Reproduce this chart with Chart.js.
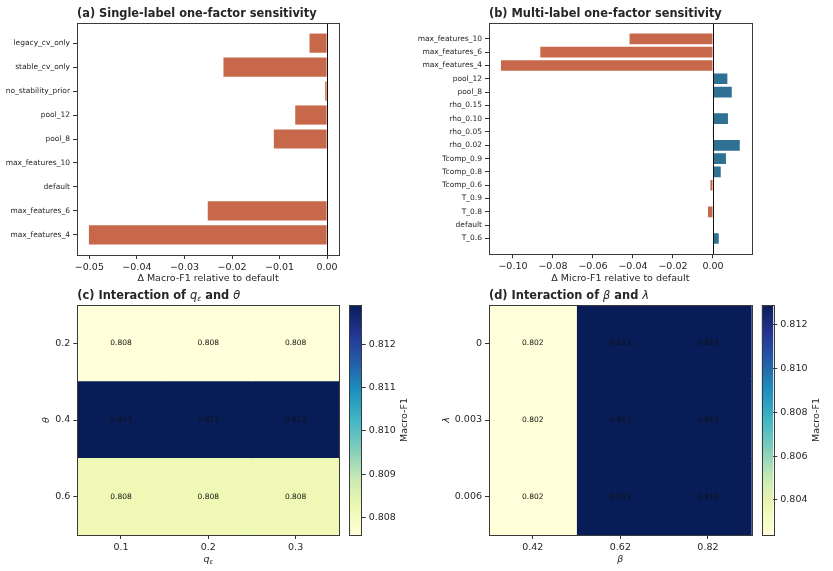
<!DOCTYPE html>
<html><head><meta charset="utf-8">
<script src="https://cdn.jsdelivr.net/npm/chart.js@4.4.0/dist/chart.umd.min.js"></script>
<style>
html,body{margin:0;padding:0;background:#fff;}
#wrap{position:relative;width:833px;height:571px;overflow:hidden;}
#wrap canvas{position:absolute;left:0;top:0;}
</style></head>
<body><div id="wrap"></div>
<script>
// ---------- data ----------
const labelsA = ['legacy_cv_only','stable_cv_only','no_stability_prior','pool_12','pool_8','max_features_10','default','max_features_6','max_features_4'];
const deltaA = [-0.0037,-0.0218,-0.0004,-0.0067,-0.0112,0,0,-0.0251,-0.0501];
const ticksA = [-0.05,-0.04,-0.03,-0.02,-0.01,0];

const labelsB = ['max_features_10','max_features_6','max_features_4','pool_12','pool_8','rho_0.15','rho_0.10','rho_0.05','rho_0.02','Tcomp_0.9','Tcomp_0.8','Tcomp_0.6','T_0.9','T_0.8','default','T_0.6'];
const deltaB = [-0.0417,-0.0863,-0.1060,0.0072,0.0094,0,0.0075,-0.0002,0.0134,0.0065,0.0039,-0.0013,0,-0.0025,0,0.0029];
const ticksB = [-0.10,-0.08,-0.06,-0.04,-0.02,0];

const thetaLabels = ['0.2','0.4','0.6'];
const qLabels = ['0.1','0.2','0.3'];
const gridC = [[0.8076,0.8076,0.8076],[0.8129,0.8129,0.8129],[0.8082,0.8082,0.8082]];
const cbTicksC = [0.808,0.809,0.810,0.811,0.812];

const lambdaLabels = ['0','0.003','0.006'];
const betaLabels = ['0.42','0.62','0.82'];
const gridD = [[0.8024,0.8129,0.8129],[0.8024,0.8129,0.8129],[0.8024,0.8129,0.8129]];
const cbTicksD = [0.804,0.806,0.808,0.810,0.812];

// ---------- style ----------
const FAM = '"DejaVu Sans", sans-serif';
const NEG = '#c8684b', POS = '#2e7194';
const TXT = '#262626', TICK = '#333333', SPINE = '#3a3a3a';
const W = 833, H = 571;
const YLGNBU = [[255,255,217],[237,248,177],[199,233,180],[127,205,187],[65,182,196],[29,145,192],[34,94,168],[37,52,148],[8,29,88]];
function cmap(t){
  t = Math.max(0, Math.min(1, t));
  const p = t*(YLGNBU.length-1), i = Math.min(Math.floor(p), YLGNBU.length-2), f = p - i;
  const a = YLGNBU[i], b = YLGNBU[i+1];
  return 'rgb(' + a.map((v,k)=>Math.round(v + (b[k]-v)*f)).join(',') + ')';
}
Chart.defaults.font.family = FAM;
Chart.defaults.color = TXT;

function drawRich(ctx, parts, x, y, align){
  let total = 0;
  parts.forEach(p=>{ctx.font = p.f; total += ctx.measureText(p.t).width;});
  let cx = align === 'center' ? x - total/2 : x;
  ctx.textAlign = 'left'; ctx.textBaseline = 'middle'; ctx.fillStyle = TXT;
  parts.forEach(p=>{ctx.font = p.f; ctx.fillText(p.t, cx, y + (p.dy||0)); cx += ctx.measureText(p.t).width;});
}

const deco = {
  id: 'deco',
  afterDatasetsDraw(chart, args, o){
    const ctx = chart.ctx, ca = chart.chartArea;
    if (o.zeroLine){
      const x = Math.round(chart.scales.x.getPixelForValue(0)) + 0.5;
      ctx.save(); ctx.strokeStyle = '#111'; ctx.lineWidth = 1;
      ctx.beginPath(); ctx.moveTo(x, ca.top); ctx.lineTo(x, ca.bottom); ctx.stroke(); ctx.restore();
    }
    if (o.cells){
      ctx.save(); ctx.font = '7.5px ' + FAM; ctx.fillStyle = '#111';
      ctx.textAlign = 'center'; ctx.textBaseline = 'middle';
      chart.data.datasets.forEach((ds, j)=>{
        chart.getDatasetMeta(j).data.forEach((el, i)=>{
          const c = el.getCenterPoint();
          ctx.fillText(o.cells[i][j].toFixed(3), c.x, c.y);
        });
      });
      ctx.restore();
    }
  },
  afterDraw(chart, args, o){
    const ctx = chart.ctx, ca = chart.chartArea;
    ctx.save();
    ctx.strokeStyle = SPINE; ctx.lineWidth = 1;
    ctx.strokeRect(Math.round(ca.left)+0.5, Math.round(ca.top)+0.5, Math.round(ca.right-ca.left), Math.round(ca.bottom-ca.top));
    if (o.title) drawRich(ctx, o.title, ca.left, ca.top - 9.3, 'left');
    if (o.xTitle) drawRich(ctx, o.xTitle, (ca.left+ca.right)/2, ca.bottom + 25, 'center');
    if (o.cbLabel){
      ctx.translate(ca.right + 43.3, (ca.top+ca.bottom)/2); ctx.rotate(-Math.PI/2);
      drawRich(ctx, [{t:o.cbLabel, f:'9.5px ' + FAM}], 0, 0, 'center');
    }
    ctx.restore();
  }
};
Chart.register(deco);

function mkCanvas(){
  const c = document.createElement('canvas');
  c.width = W; c.height = H; c.style.width = W+'px'; c.style.height = H+'px';
  document.getElementById('wrap').appendChild(c);
  return c;
}
const tickGrid = {drawOnChartArea:false, drawTicks:true, tickLength:4, tickColor:TICK, tickWidth:1, offset:false};
const fmt2 = v => Math.abs(v) < 1e-12 ? '0.00' : v.toFixed(2).replace('-', '\u2212');

function barPanel(labels, values, ticks, xTitle, title, L){
  const n = labels.length;
  const m = 0.4 + 0.05*(n - 1 + 0.8);
  const lo = Math.min(0, ...values), hi = Math.max(0, ...values), r = hi - lo;
  new Chart(mkCanvas(), {
    type: 'bar',
    data: {datasets: [{
      data: values.map((v,i)=>({x:v, y:i})),
      backgroundColor: values.map(v => v < 0 ? NEG : POS),
      categoryPercentage: 1, barPercentage: 0.8, borderWidth: 0
    }]},
    options: {
      indexAxis: 'y', responsive: false, animation: false, devicePixelRatio: 1,
      layout: {padding: {left: L.pl, right: L.pr, top: L.pt, bottom: L.pb}},
      plugins: {legend: {display:false}, tooltip: {enabled:false},
        deco: {zeroLine: true, title: [{t:title, f:'bold 11.4px ' + FAM}]}},
      scales: {
        y: {type:'linear', reverse:true, offset:false, min:-m, max:n-1+m,
          afterBuildTicks: s => { s.ticks = labels.map((_,i)=>({value:i})); },
          ticks: {callback: v => labels[v], font:{size:7.5}, color:TXT, padding:3, autoSkip:false},
          grid: tickGrid, border: {display:false},
          afterFit: s => { s.width = L.yW; }},
        x: {type:'linear', offset:false, min: lo - 0.05*r, max: hi + 0.05*r,
          afterBuildTicks: s => { s.ticks = ticks.map(v=>({value:v})); },
          ticks: {callback: fmt2, font:{size:9.5}, color:TXT, padding:3, maxRotation:0, autoSkip:false},
          grid: tickGrid, border: {display:false},
          title: {display:true, text:xTitle, font:{size:9.5}, color:TXT, padding:0},
          afterFit: s => { s.height = L.xH; }}
      }
    }
  });
}

function heatPanel(rowLabels, colLabels, grid, titleParts, yTitle, yTitlePad, xTitleParts, xTitleText, L){
  const flat = grid.flat();
  const vmin = Math.min(...flat), vmax = Math.max(...flat);
  const datasets = colLabels.map((c, j) => ({
    data: rowLabels.map(() => [j - 0.5, j + 0.5]),
    backgroundColor: rowLabels.map((r, i) => cmap((grid[i][j] - vmin)/(vmax - vmin))),
    grouped: false, categoryPercentage: 1, barPercentage: 1, borderWidth: 0
  }));
  const xt = xTitleText ? {display:true, text:xTitleText, font:{size:9.5, style:'italic'}, color:TXT, padding:0} : {display:false};
  new Chart(mkCanvas(), {
    type: 'bar',
    data: {labels: rowLabels, datasets},
    options: {
      indexAxis: 'y', responsive: false, animation: false, devicePixelRatio: 1,
      layout: {padding: {left: L.pl, right: L.pr, top: L.pt, bottom: L.pb}},
      plugins: {legend:{display:false}, tooltip:{enabled:false},
        deco: {cells: grid, title: titleParts, xTitle: xTitleParts}},
      scales: {
        y: {type:'category', offset:true,
          ticks: {font:{size:9.5}, color:TXT, padding:3},
          grid: tickGrid, border:{display:false},
          title: {display:true, text:yTitle, font:{size:9.5, style:'italic'}, color:TXT, padding:{top:yTitlePad, bottom:0}},
          afterFit: s => { s.width = L.yW; }},
        x: {type:'linear', offset:false, min:-0.5, max:colLabels.length - 0.5,
          afterBuildTicks: s => { s.ticks = colLabels.map((_, j)=>({value:j})); },
          ticks: {callback: v => colLabels[v], font:{size:9.5}, color:TXT, padding:3, maxRotation:0, autoSkip:false},
          grid: tickGrid, border:{display:false}, title: xt,
          afterFit: s => { s.height = L.xH; }}
      }
    }
  });
  return {vmin, vmax};
}

function colorbar(range, cbTicks, L){
  new Chart(mkCanvas(), {
    type: 'bar',
    data: {labels: ['cb'], datasets: [{
      data: [[range.vmin, range.vmax]],
      backgroundColor: (ctx) => {
        const ca = ctx.chart.chartArea; if (!ca) return '#fff';
        const g = ctx.chart.ctx.createLinearGradient(0, ca.bottom, 0, ca.top);
        for (let k = 0; k <= 32; k++) g.addColorStop(k/32, cmap(k/32));
        return g;
      },
      categoryPercentage: 1, barPercentage: 1, borderWidth: 0
    }]},
    options: {
      responsive: false, animation: false, devicePixelRatio: 1,
      layout: {padding: {left: L.pl, right: L.pr, top: L.pt, bottom: L.pb}},
      plugins: {legend:{display:false}, tooltip:{enabled:false}, deco:{cbLabel:'Macro-F1'}},
      scales: {
        x: {display:false},
        y: {type:'linear', position:'right', min:range.vmin, max:range.vmax,
          afterBuildTicks: s => { s.ticks = cbTicks.map(v=>({value:v})); },
          ticks: {callback: v => v.toFixed(3), font:{size:9.5}, color:TXT, padding:3, autoSkip:false},
          grid: tickGrid, border:{display:false},
          afterFit: s => { s.width = L.yW; }}
      }
    }
  });
}

// ---------- panels ----------
barPanel(labelsA, deltaA, ticksA, '\u0394 Macro-F1 relative to default', '(a) Single-label one-factor sensitivity',
  {pl:0, yW:77, pr:W-339, pt:23, pb:H-284, xH:29});
barPanel(labelsB, deltaB, ticksB, '\u0394 Micro-F1 relative to default', '(b) Multi-label one-factor sensitivity',
  {pl:400, yW:89, pr:W-751.7, pt:23, pb:H-284, xH:29.7});

const B = 'bold 11.4px ' + FAM, I = 'italic 11.4px ' + FAM, IS = 'italic 7.5px ' + FAM;
const rC = heatPanel(thetaLabels, qLabels, gridC,
  [{t:'(c) Interaction of ', f:B}, {t:'q', f:I}, {t:'\u03b5', f:IS, dy:3}, {t:' and ', f:B}, {t:'\u03b8', f:I}],
  '\u03b8', 41.3,
  [{t:'q', f:'italic 9.5px ' + FAM}, {t:'\u03b5', f:'italic 6.5px ' + FAM, dy:2.5}], null,
  {pl:0, yW:77.3, pr:W-339.3, pt:305, pb:5.3, xH:30.7});
colorbar(rC, cbTicksC, {pl:349.3, pr:W-361.7-40, yW:40, pt:305, pb:H-535});

const rD = heatPanel(lambdaLabels, betaLabels, gridD,
  [{t:'(d) Interaction of ', f:B}, {t:'\u03b2', f:I}, {t:' and ', f:B}, {t:'\u03bb', f:I}],
  '\u03bb', 41,
  null, '\u03b2',
  {pl:400, yW:89, pr:W-751.7, pt:305, pb:5.3, xH:30.7});
colorbar(rD, cbTicksD, {pl:761.7, pr:W-773.3-40, yW:40, pt:305, pb:H-535});
</script>
</body></html>
